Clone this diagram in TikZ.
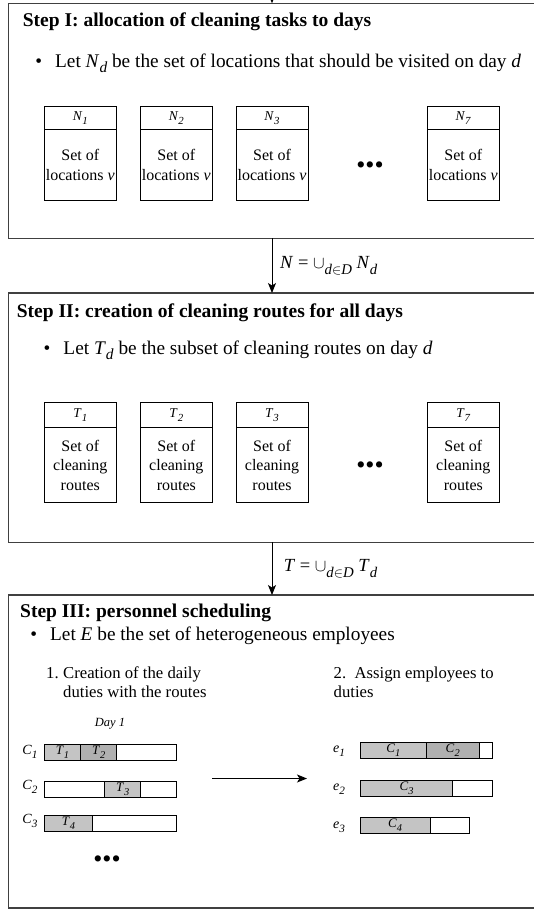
\documentclass[tikz,border=0pt]{standalone}
\usepackage{amsmath}
\usepackage{graphicx}
\usepackage{fontspec}
\setmainfont{Liberation Serif}
\usetikzlibrary{positioning,arrows.meta}
\definecolor{framegray}{HTML}{404040}
\definecolor{segA}{HTML}{C4C4C4}
\definecolor{segB}{HTML}{B0B0B0}
\newcommand{\lowsub}[1]{\raisebox{-0.3em}{\scalebox{0.8}{#1}}}
\newcommand{\idx}[2]{\textit{#1}\lowsub{\textit{#2}}}
\tikzset{>={Stealth[length=10pt,width=8pt,inset=2.5pt]}}
\tikzset{
  frame/.style={draw=framegray,line width=1.5pt,anchor=north west,minimum width=560pt,inner sep=0pt,outer sep=0pt},
  steptitle/.style={anchor=base west,inner sep=0pt,font=\fontsize{19.5}{23}\selectfont\bfseries},
  bullettext/.style={anchor=base west,inner sep=0pt,font=\fontsize{19.3}{23}\selectfont},
  itemtext/.style={anchor=north west,inner sep=0pt,align=left,font=\fontsize{16.7}{19}\selectfont},
  dayhead/.style={draw,line width=1pt,anchor=north west,minimum width=72pt,inner sep=0pt,outer sep=0pt,font=\fontsize{13.5}{15}\selectfont},
  daybody/.style={draw,line width=1pt,minimum width=72pt,inner sep=0pt,outer sep=0pt,align=center,font=\fontsize{16}{19.5}\selectfont},
  seg/.style={draw,line width=1pt,minimum height=16pt,inner sep=0pt,outer sep=0pt,anchor=west,font=\fontsize{13}{15}\selectfont},
  lab/.style={inner sep=0pt,font=\fontsize{14}{16}\selectfont},
  dots/.style={inner sep=0pt,font=\fontsize{26}{26}\selectfont},
  flow/.style={draw,line width=1pt,->}
}

\begin{document}
\begin{tikzpicture}[x=1pt,y=-1pt]
\useasboundingbox (0,0) rectangle (534,911);
\clip (0,0) rectangle (534,911);

% the three steps
\node[frame,minimum height=235pt] (s1) at (8.3,3.3) {};
\node[frame,minimum height=249.3pt] (s2) at (8.3,293) {};
\node[frame,minimum height=313pt] (s3) at (8.3,595) {};

\coordinate (ax) at (272,0);
\coordinate (in0) at (272,-20);
\draw[flow] (in0) -- (s1.north -| ax);
\draw[flow] (s1.south -| ax) -- (s2.north -| ax);
\draw[flow] (s2.south -| ax) -- (s3.north -| ax);
\node[anchor=west,inner sep=0pt,font=\fontsize{18.5}{20}\selectfont] (u1) at (280,265.7)
  {\textit{N} = $\cup$\lowsub{\textit{d}$\in$\textit{D}} \idx{N}{d}};
\node[anchor=west,inner sep=0pt,font=\fontsize{18.5}{20}\selectfont] (u2) at (283.7,568.7)
  {\textit{T} = $\cup$\lowsub{\textit{d}$\in$\textit{D}} \idx{T}{d}};

% Step I
\node[steptitle] (t1) at (22.7,26) {Step I: allocation of cleaning tasks to days};
\node[bullettext] (b1) at (55,67) {\llap{\textbullet\hspace{13pt}}Let \idx{N}{d} be the set of locations that should be visited on day \textit{d}};
\foreach \i/\x in {1/44.3,2/140.3,3/236,7/427.3}{
  \node[dayhead,minimum height=22.6pt] (nh\i) at (\x,106.7) {\idx{N}{\i}};
  \node[daybody,minimum height=71.4pt,below=0pt of nh\i] (nb\i) {Set of\\locations \textit{v}};
}
\node[dots] (nd) at (370,168) {•••};

% Step II
\node[steptitle] (t2) at (16.7,317) {Step II: creation of cleaning routes for all days};
\node[bullettext] (b2) at (63.3,354) {\llap{\textbullet\hspace{13pt}}Let \idx{T}{d} be the subset of cleaning routes on day \textit{d}};
\foreach \i/\x in {1/44.3,2/140.3,3/236,7/427.3}{
  \node[dayhead,minimum height=25pt] (th\i) at (\x,402.3) {\idx{T}{\i}};
  \node[daybody,minimum height=75.4pt,below=0pt of th\i] (tb\i) {Set of\\cleaning\\routes};
}
\node[dots] (td) at (370,468) {•••};

% Step III
\node[steptitle] (t3) at (20,617) {Step III: personnel scheduling};
\node[bullettext] (b3) at (50,640) {\llap{\textbullet\hspace{13pt}}Let \textit{E} be the set of heterogeneous employees};
\node[itemtext] (i1) at (46,666.4) {\makebox[17pt][l]{1.}Creation of the daily\\\hspace*{17pt}duties with the routes};
\node[itemtext] (i2) at (333.5,666.4) {2.\ \ Assign employees to\\duties};
\node[lab,anchor=base,font=\fontsize{12.5}{14}\selectfont\itshape] (day) at (110,726) {Day 1};

% duties of day 1
\node[seg,fill=segA,minimum width=36.4pt] (c1a) at (44.3,752) {\idx{T}{1}};
\node[seg,fill=segB,minimum width=36.1pt,right=0pt of c1a] (c1b) {\idx{T}{2}};
\node[seg,minimum width=59.7pt,right=0pt of c1b] (c1c) {};
\node[seg,minimum width=60.2pt] (c2a) at (44.3,789) {};
\node[seg,fill=segA,minimum width=36.2pt,right=0pt of c2a] (c2b) {\idx{T}{3}};
\node[seg,minimum width=35.8pt,right=0pt of c2b] (c2c) {};
\node[seg,fill=segA,minimum width=48.2pt] (c3a) at (44.3,823) {\idx{T}{4}};
\node[seg,minimum width=84pt,right=0pt of c3a] (c3b) {};
\node[lab] (lc1) at (30,752) {\idx{C}{1}};
\node[lab] (lc2) at (30,787) {\idx{C}{2}};
\node[lab] (lc3) at (30,821) {\idx{C}{3}};
\node[dots] (cd) at (107,862) {•••};

\coordinate (g0) at (212.4,778.5);
\coordinate (g1) at (307,778.5);
\draw[flow] (g0) -- (g1);

% employees
\node[seg,fill=segA,minimum width=66.1pt] (e1a) at (360.3,750) {\idx{C}{1}};
\node[seg,fill=segB,minimum width=52.6pt,right=0pt of e1a] (e1b) {\idx{C}{2}};
\node[seg,minimum width=13.1pt,right=0pt of e1b] (e1c) {};
\node[seg,fill=segA,minimum width=92.5pt] (e2a) at (360.3,788) {\idx{C}{3}};
\node[seg,minimum width=39.3pt,right=0pt of e2a] (e2b) {};
\node[seg,fill=segA,minimum width=69.7pt] (e3a) at (360.3,825) {\idx{C}{4}};
\node[seg,minimum width=39.3pt,right=0pt of e3a] (e3b) {};
\node[lab] (le1) at (339,751) {\idx{e}{1}};
\node[lab] (le2) at (339,789) {\idx{e}{2}};
\node[lab] (le3) at (339,827) {\idx{e}{3}};
\end{tikzpicture}
\end{document}
